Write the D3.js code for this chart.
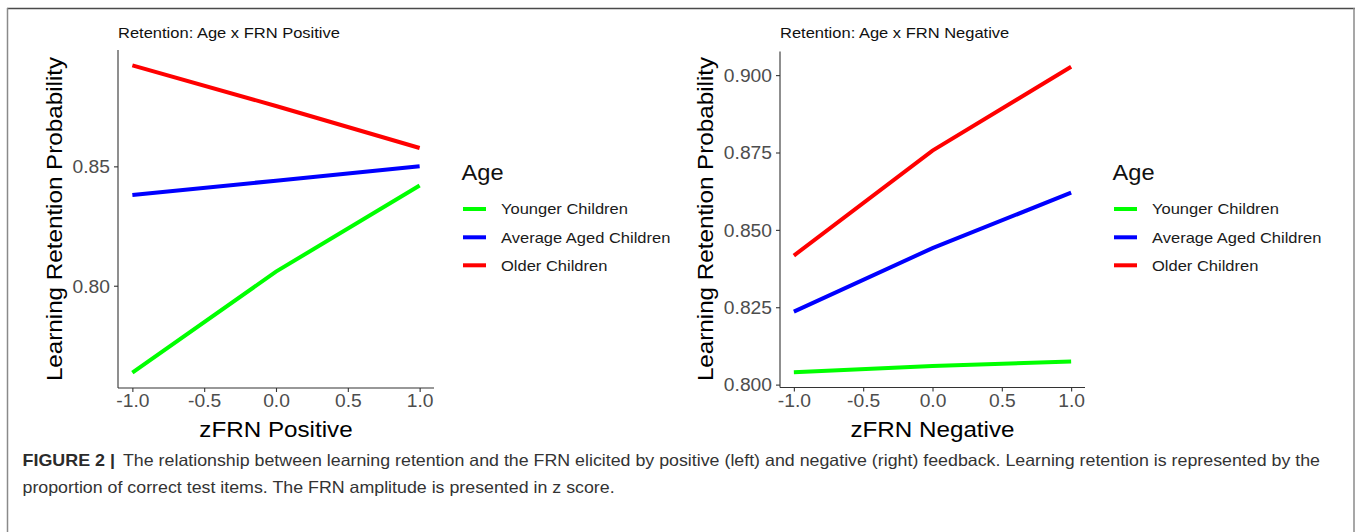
<!DOCTYPE html>
<html>
<head>
<meta charset="utf-8">
<script src="https://cdn.jsdelivr.net/npm/d3@7"></script>
<style>
  html, body { margin: 0; padding: 0; background: #fff; }
  svg { display: block; }
  text { font-family: "Liberation Sans", Arial, Helvetica, sans-serif; }
</style>
</head>
<body>
<svg id="chart" width="1357" height="532"></svg>
<script>
// ---------------- DATA ----------------
const zValues = [-1, 0, 1];
const xTicks = [-1.0, -0.5, 0.0, 0.5, 1.0];

const seriesNames = ["Younger Children", "Average Aged Children", "Older Children"];
const seriesColors = ["#00FF00", "#0000FF", "#FF0000"];

// Left panel: FRN Positive
const posYounger = [0.7636, 0.8059, 0.8420];
const posAverage = [0.8380, 0.8440, 0.8500];
const posOlder   = [0.8923, 0.8753, 0.8577];
const posYTicks  = [0.80, 0.85];

// Right panel: FRN Negative
const negYounger = [0.8040, 0.8060, 0.8075];
const negAverage = [0.8236, 0.8441, 0.8620];
const negOlder   = [0.8417, 0.8756, 0.9027];
const negYTicks  = [0.800, 0.825, 0.850, 0.875, 0.900];

const captionBold = "FIGURE 2 |";
const captionLine1 = "The relationship between learning retention and the FRN elicited by positive (left) and negative (right) feedback. Learning retention is represented by the";
const captionLine2 = "proportion of correct test items. The FRN amplitude is presented in z score.";

// ---------------- DRAW ----------------
const svg = d3.select("#chart");
const STRETCH = 1.1;

function stretch(sel, factor) {
  sel.each(function () {
    const L = this.getComputedTextLength();
    this.setAttribute("textLength", L * factor);
    this.setAttribute("lengthAdjust", "spacingAndGlyphs");
  });
  return sel;
}

// Frame
svg.append("line").attr("x1", 7).attr("x2", 1355).attr("y1", 8.5).attr("y2", 8.5)
  .attr("stroke", "#4a4a4a").attr("stroke-width", 1.5);
svg.append("line").attr("x1", 7.5).attr("x2", 7.5).attr("y1", 8).attr("y2", 532)
  .attr("stroke", "#8a8a8a").attr("stroke-width", 1.5);
svg.append("line").attr("x1", 1354).attr("x2", 1354).attr("y1", 8).attr("y2", 532)
  .attr("stroke", "#8a8a8a").attr("stroke-width", 1.5);

function panel(cfg) {
  const g = svg.append("g");
  const all = cfg.series.flat();
  const ext = d3.extent(all);
  const pad = (ext[1] - ext[0]) * 0.05;
  const x = d3.scaleLinear().domain([-1.1, 1.1]).range([cfg.left, cfg.right]);
  const y = d3.scaleLinear().domain([ext[0] - pad, ext[1] + pad]).range([cfg.bottom, cfg.top]);

  // Axes
  const yAxis = d3.axisLeft(y).tickValues(cfg.yTicks).tickFormat(cfg.yFmt).tickSize(4).tickPadding(4);
  const xAxis = d3.axisBottom(x).tickValues(xTicks).tickFormat(d3.format(".1f")).tickSize(4).tickPadding(3);

  const ya = g.append("g").attr("transform", `translate(${cfg.left},0)`).call(yAxis);
  const xa = g.append("g").attr("transform", `translate(0,${cfg.bottom})`).call(xAxis);
  [ya, xa].forEach(a => {
    a.select(".domain").attr("stroke", "#333").attr("stroke-width", 1.1);
    a.selectAll(".tick line").attr("stroke", "#333").attr("stroke-width", 1.1);
    a.selectAll(".tick text").attr("fill", "#4D4D4D").attr("font-size", 17.5)
      .attr("font-family", '"Liberation Sans", Arial, sans-serif');
  });
  ya.select(".domain").attr("d", `M0,${cfg.bottom}V${cfg.top}`);
  xa.select(".domain").attr("d", `M${cfg.left},0H${cfg.right}`);
  xa.selectAll(".tick text").text(d => d3.format(".1f")(d).replace("−", "-"));
  ya.selectAll(".tick text").attr("dy", "0.36em");
  stretch(ya.selectAll(".tick text"), STRETCH);
  stretch(xa.selectAll(".tick text"), STRETCH);

  // Lines
  const line = d3.line().x((d, i) => x(zValues[i])).y(d => y(d));
  cfg.series.forEach((s, i) => {
    g.append("path").datum(s).attr("d", line).attr("fill", "none")
      .attr("stroke", seriesColors[i]).attr("stroke-width", 4);
  });

  // Titles
  stretch(g.append("text").attr("x", cfg.left).attr("y", 38).attr("font-size", 15)
    .attr("fill", "#111").text(cfg.title), STRETCH);
  stretch(g.append("text").attr("x", (cfg.left + cfg.right) / 2).attr("y", 437)
    .attr("text-anchor", "middle").attr("font-size", 22).attr("fill", "#000").text(cfg.xTitle), STRETCH);
  stretch(g.append("text").attr("transform", `translate(${cfg.yTitleX},219) rotate(-90)`)
    .attr("text-anchor", "middle").attr("font-size", 22).attr("fill", "#000")
    .text("Learning Retention Probability"), STRETCH);

  // Legend
  const lx = cfg.right + 27.5;
  stretch(g.append("text").attr("x", lx).attr("y", 180).attr("font-size", 21.5).attr("fill", "#111").text("Age"), STRETCH);
  const legY = [209, 237.3, 265.3];
  seriesNames.forEach((n, i) => {
    g.append("line").attr("x1", lx + 1.5).attr("x2", lx + 24.5).attr("y1", legY[i]).attr("y2", legY[i])
      .attr("stroke", seriesColors[i]).attr("stroke-width", 4);
    stretch(g.append("text").attr("x", lx + 39.5).attr("y", legY[i]).attr("dy", "0.36em")
      .attr("font-size", 15).attr("fill", "#1a1a1a").text(n), STRETCH);
  });
}

panel({
  left: 118, right: 434, top: 50, bottom: 388,
  series: [posYounger, posAverage, posOlder],
  yTicks: posYTicks, yFmt: d3.format(".2f"),
  title: "Retention: Age x FRN Positive", xTitle: "zFRN Positive", yTitleX: 62
});
panel({
  left: 780, right: 1085, top: 51.5, bottom: 387.5,
  series: [negYounger, negAverage, negOlder],
  yTicks: negYTicks, yFmt: d3.format(".3f"),
  title: "Retention: Age x FRN Negative", xTitle: "zFRN Negative", yTitleX: 713
});

// Caption
const cap = svg.append("g");
const capY1 = 466, capY2 = 493;
const cb = cap.append("text").attr("x", 22.5).attr("y", capY1).attr("font-size", 16.5)
  .attr("font-weight", "bold").attr("fill", "#2b2b2b").text(captionBold);
const c1 = cap.append("text").attr("x", 123).attr("y", capY1).attr("font-size", 16.5)
  .attr("fill", "#333").text(captionLine1);
const f = 1197 / c1.node().getComputedTextLength();
c1.attr("textLength", 1197).attr("lengthAdjust", "spacingAndGlyphs");
stretch(cb, 92.5 / cb.node().getComputedTextLength());
stretch(cap.append("text").attr("x", 22.5).attr("y", capY2).attr("font-size", 16.5)
  .attr("fill", "#333").text(captionLine2), f);
</script>
</body>
</html>
